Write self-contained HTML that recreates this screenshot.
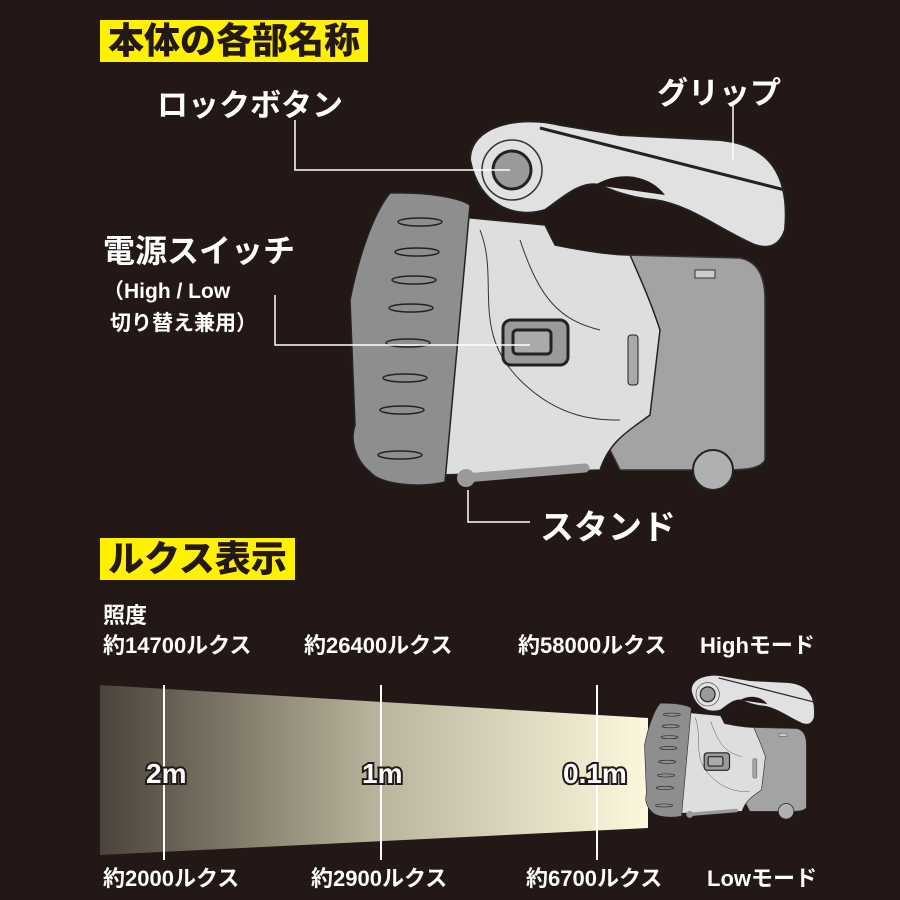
<!DOCTYPE html>
<html><head><meta charset="utf-8">
<style>
body{margin:0;background:#231815;}
#c{position:relative;width:900px;height:900px;background:#231815;overflow:hidden;font-family:"Liberation Sans","Noto Sans CJK JP",sans-serif;color:#fff;font-weight:bold;}
.t{position:absolute;white-space:nowrap;}
.hd{position:absolute;background:#fff100;color:#231815;font-size:36px;line-height:42px;padding:0 8px;font-weight:900;}
</style></head><body><div id="c">
<svg width="900" height="900" style="position:absolute;left:0;top:0">
<defs>
<linearGradient id="bg" x1="0" x2="1" y1="0" y2="0">
<stop offset="0" stop-color="#4b423a"/><stop offset="0.5" stop-color="#b8b39b"/><stop offset="1" stop-color="#fcf8dd"/>
</linearGradient>
<g id="fl">
<path d="M470,160 C470,125 520,115 560,125 L620,135 L720,140 C770,145 790,175 785,230 C780,245 770,250 755,245 C720,230 690,205 655,200 C630,198 610,190 600,185 C580,180 560,200 545,210 C520,218 480,210 470,160Z" fill="#e1e1e1" stroke="#222" stroke-width="2"/>
<path d="M540,128 L785,190" stroke="#222" stroke-width="3" fill="none"/>
<path d="M595,185 C620,170 650,175 665,195" fill="#231815"/>
<circle cx="512" cy="170" r="30" fill="none" stroke="#333" stroke-width="1.5"/>
<circle cx="512" cy="170" r="19" fill="#9a9a9a" stroke="#222" stroke-width="3"/>
<path d="M625,255 L740,258 C760,262 765,280 765,300 L765,460 C760,470 740,470 720,470 L620,470 L600,430 Z" fill="#a3a3a3" stroke="#333" stroke-width="1.5"/>
<rect x="695" y="270" width="20" height="8" fill="#ccc" stroke="#333"/>
<path d="M440,215 L545,225 L555,245 C580,250 610,255 630,255 C650,300 655,315 660,330 L650,415 C630,430 610,440 600,470 L440,475 Z" fill="#dedede" stroke="#222" stroke-width="1.5"/>
<path d="M480,230 C500,280 470,330 520,380 C560,420 600,420 620,420" fill="none" stroke="#333" stroke-width="1"/>
<path d="M520,240 C540,300 560,320 600,330" fill="none" stroke="#333" stroke-width="1"/>
<rect x="503" y="320" width="65" height="45" rx="8" fill="#9a9a9a" stroke="#222" stroke-width="3"/>
<rect x="513" y="330" width="38" height="24" rx="4" fill="#aaa" stroke="#222" stroke-width="3"/>
<rect x="628" y="335" width="10" height="50" rx="3" fill="#aaa" stroke="#222"/>
<path d="M390,193 C430,192 460,198 470,205 L445,482 C420,488 380,485 370,472 C355,460 350,440 355,425 L350,300 C358,260 372,215 390,193Z" fill="#8e8e8e" stroke="#222" stroke-width="1.5"/>
<g fill="none" stroke="#222" stroke-width="1.5">
<ellipse cx="420" cy="222" rx="22" ry="4"/><ellipse cx="417" cy="252" rx="22" ry="4"/><ellipse cx="414" cy="280" rx="22" ry="4"/><ellipse cx="411" cy="308" rx="22" ry="4"/><ellipse cx="408" cy="343" rx="22" ry="4"/><ellipse cx="405" cy="378" rx="22" ry="4"/><ellipse cx="402" cy="410" rx="22" ry="4"/><ellipse cx="400" cy="455" rx="22" ry="4"/>
</g>
<path d="M465,478 L585,468" stroke="#9a9a9a" stroke-width="9" stroke-linecap="round"/>
<circle cx="466" cy="478" r="9" fill="#9a9a9a"/>
<circle cx="713" cy="470" r="20" fill="#b0b0b0" stroke="#222" stroke-width="2"/>
</g>
</defs>
<use href="#fl"/>
<g stroke="#fff" stroke-width="1.5" fill="none">
<path d="M295,120 V170 H510"/>
<path d="M733,105 V160"/>
<path d="M275,295 V345 H530"/>
<path d="M468,490 V522 H530"/>
</g>
<polygon points="100,685 648,718 648,828 100,855" fill="url(#bg)"/>
<g stroke="#fff" stroke-width="2"><line x1="164" y1="685" x2="164" y2="860"/><line x1="381" y1="685" x2="381" y2="860"/><line x1="597" y1="685" x2="597" y2="860"/></g>
<g transform="translate(508,628) scale(0.39)"><use href="#fl"/></g>
<g font-family="Liberation Sans,sans-serif" font-size="28" fill="#fff" stroke="#231815" stroke-width="4" paint-order="stroke">
<text x="146" y="783">2m</text><text x="362" y="783">1m</text><text x="563" y="783">0.1m</text>
</g>
</svg>
<div class="hd" style="left:100px;top:20px;">本体の各部名称</div>
<div class="hd" style="left:100px;top:538px;">ルクス表示</div>
<div class="t" style="left:157px;top:80px;font-size:31px;">ロックボタン</div>
<div class="t" style="left:657px;top:68px;font-size:31px;">グリップ</div>
<div class="t" style="left:103px;top:226px;font-size:32px;">電源スイッチ</div>
<div class="t" style="left:103px;top:275px;font-size:21px;">（High / Low</div>
<div class="t" style="left:110px;top:307px;font-size:21px;">切り替え兼用）</div>
<div class="t" style="left:540px;top:500px;font-size:34px;">スタンド</div>
<div class="t" style="left:103px;top:598px;font-size:22px;">照度</div>
<div class="t" style="left:103px;top:628px;font-size:22px;">約14700ルクス</div>
<div class="t" style="left:304px;top:628px;font-size:22px;">約26400ルクス</div>
<div class="t" style="left:518px;top:628px;font-size:22px;">約58000ルクス</div>
<div class="t" style="left:700px;top:628px;font-size:22px;">Highモード</div>
<div class="t" style="left:103px;top:861px;font-size:22px;">約2000ルクス</div>
<div class="t" style="left:311px;top:861px;font-size:22px;">約2900ルクス</div>
<div class="t" style="left:526px;top:861px;font-size:22px;">約6700ルクス</div>
<div class="t" style="left:707px;top:861px;font-size:22px;">Lowモード</div>
</div></body></html>
